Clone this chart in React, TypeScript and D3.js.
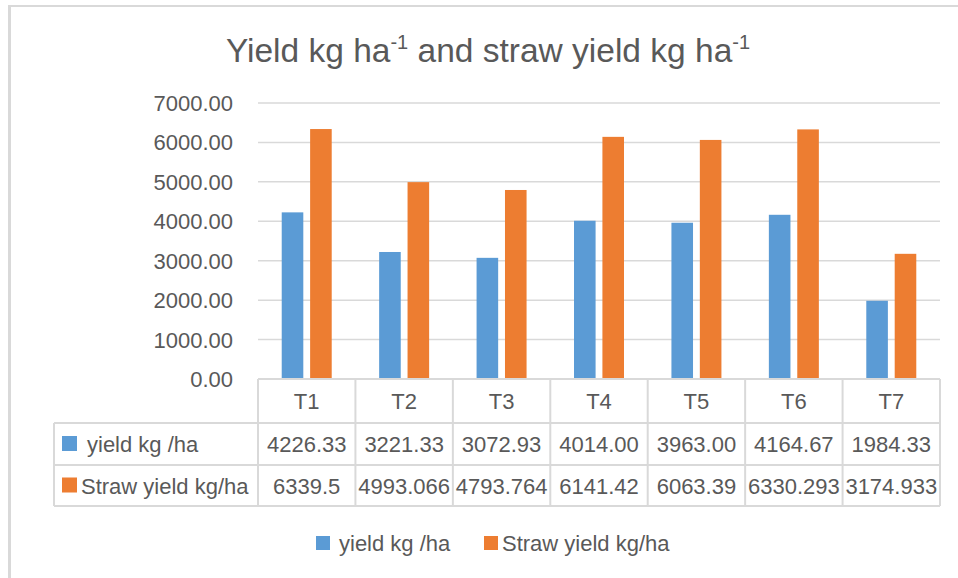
import * as d3 from 'd3'

const categories = ['T1', 'T2', 'T3', 'T4', 'T5', 'T6', 'T7']
const yieldValues = [4226.33, 3221.33, 3072.93, 4014.0, 3963.0, 4164.67, 1984.33]
const strawValues = [6339.5, 4993.066, 4793.764, 6141.42, 6063.39, 6330.293, 3174.933]
const yieldLabels = ['4226.33', '3221.33', '3072.93', '4014.00', '3963.00', '4164.67', '1984.33']
const strawLabels = ['6339.5', '4993.066', '4793.764', '6141.42', '6063.39', '6330.293', '3174.933']
const seriesNames = ['yield kg /ha', 'Straw yield kg/ha']
const yTicks = [0, 1000, 2000, 3000, 4000, 5000, 6000, 7000]

const colors = ['#5b9bd5', '#ed7d31']
const textColor = '#595959'
const lineColor = '#d9d9d9'
const font = '"Liberation Sans", Arial, sans-serif'

export default function App() {
  const width = 958
  const height = 578

  // plot area
  const left = 258,
    right = 940,
    top = 103,
    bottom = 379

  const x = d3.scaleBand<string>().domain(categories).range([left, right])
  const xInner = d3
    .scaleBand<number>()
    .domain([0, 1])
    .range([0, x.bandwidth()])
    .paddingInner(0.24)
    .paddingOuter(0.835)
  const y = d3.scaleLinear().domain([0, 7000]).range([bottom, top])

  const series = [yieldValues, strawValues]
  const rowLabels = [yieldLabels, strawLabels]

  // table rows
  const rowY = [379, 423, 465, 506]
  const tableLeft = 54

  return (
    <svg
      width={width}
      height={height}
      style={{ position: 'absolute', left: 0, top: 0, background: '#fff' }}
      fontFamily={font}
    >
      {/* chart frame */}
      <line x1={8} x2={958} y1={6} y2={6} stroke={lineColor} strokeWidth={2} />
      <line x1={9.5} x2={9.5} y1={5} y2={578} stroke={lineColor} strokeWidth={3} />

      {/* title */}
      <text x={488} y={62} textAnchor="middle" fontSize={33.5} fill={textColor}>
        Yield kg ha
        <tspan dy={-13} fontSize={20}>-1</tspan>
        <tspan dy={13}> and straw yield kg ha</tspan>
        <tspan dy={-13} fontSize={20}>-1</tspan>
      </text>

      {/* gridlines + y labels */}
      {yTicks.map((t) => (
        <g key={t}>
          {t > 0 && (
            <line x1={left} x2={right} y1={y(t)} y2={y(t)} stroke={lineColor} strokeWidth={1.5} />
          )}
          <text x={233} y={y(t) + 8} textAnchor="end" fontSize={22} fill={textColor}>
            {t.toFixed(2)}
          </text>
        </g>
      ))}

      {/* bars */}
      {series.map((vals, si) =>
        vals.map((v, i) => (
          <rect
            key={si + '-' + i}
            x={(x(categories[i]) as number) + (xInner(si) as number)}
            y={y(v)}
            width={xInner.bandwidth()}
            height={y(0) - y(v)}
            fill={colors[si]}
          />
        ))
      )}

      {/* data table */}
      <g stroke={lineColor} strokeWidth={2} fill="none">
        <line x1={left} x2={right} y1={rowY[0]} y2={rowY[0]} />
        <line x1={tableLeft} x2={right} y1={rowY[1]} y2={rowY[1]} />
        <line x1={tableLeft} x2={right} y1={rowY[2]} y2={rowY[2]} />
        <line x1={tableLeft} x2={right} y1={rowY[3]} y2={rowY[3]} />
        <line x1={tableLeft} x2={tableLeft} y1={rowY[1]} y2={rowY[3]} />
        {categories.map((c) => (
          <line key={c} x1={x(c)} x2={x(c)} y1={rowY[0]} y2={rowY[3]} />
        ))}
        <line x1={right} x2={right} y1={rowY[0]} y2={rowY[3]} />
      </g>
      {categories.map((c) => (
        <text
          key={c}
          x={(x(c) as number) + x.bandwidth() / 2}
          y={rowY[0] + 30}
          textAnchor="middle"
          fontSize={22}
          fill={textColor}
        >
          {c}
        </text>
      ))}
      {rowLabels.map((labels, si) => (
        <g key={si}>
          <rect x={62} y={(rowY[si + 1] + rowY[si + 2]) / 2 - 8} width={15} height={15} fill={colors[si]} />
          <text
            x={si === 0 ? 87 : 81}
            y={(rowY[si + 1] + rowY[si + 2]) / 2 + 8}
            fontSize={22}
            fill={textColor}
          >
            {seriesNames[si]}
          </text>
          {labels.map((l, i) => (
            <text
              key={i}
              x={(x(categories[i]) as number) + x.bandwidth() / 2}
              y={(rowY[si + 1] + rowY[si + 2]) / 2 + 8}
              textAnchor="middle"
              fontSize={22}
              fill={textColor}
            >
              {l}
            </text>
          ))}
        </g>
      ))}

      {/* legend */}
      <rect x={316} y={536} width={14} height={14} fill={colors[0]} />
      <text x={339} y={551} fontSize={22} fill={textColor}>
        {seriesNames[0]}
      </text>
      <rect x={484} y={536} width={14} height={14} fill={colors[1]} />
      <text x={502} y={551} fontSize={22} fill={textColor}>
        {seriesNames[1]}
      </text>
    </svg>
  )
}
